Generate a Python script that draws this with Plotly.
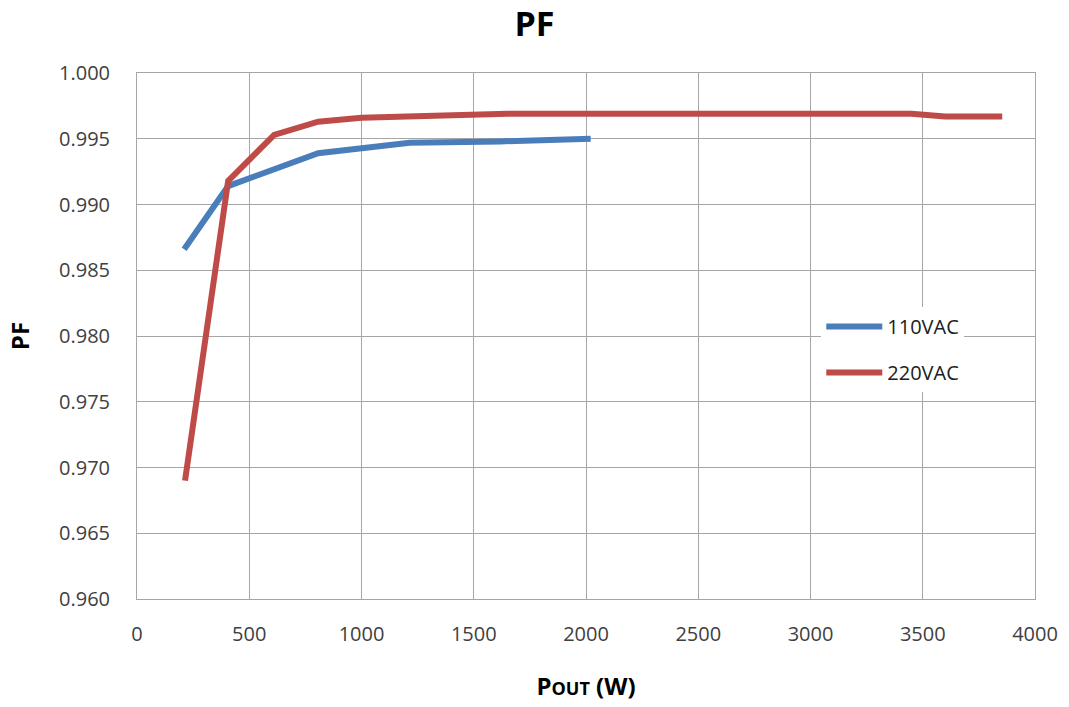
import plotly.graph_objects as go

# Output power (W) and measured power factor
pout_110 = [210, 406, 807, 1215, 1620, 2021]
pf_110 = [0.9866, 0.9914, 0.9939, 0.9947, 0.9948, 0.9950]

pout_220 = [214, 406, 611, 807, 1000, 1220, 1650, 3450, 3600, 3854]
pf_220 = [0.9690, 0.9918, 0.9953, 0.9963, 0.9966, 0.9967, 0.9969, 0.9969, 0.9967, 0.9967]

x_ticks = [0, 500, 1000, 1500, 2000, 2500, 3000, 3500, 4000]
y_ticks = [0.960, 0.965, 0.970, 0.975, 0.980, 0.985, 0.990, 0.995, 1.000]

FONT = "Open Sans, Lato, sans-serif"
GRID = "#a6a6a6"
TICK_FONT = dict(family=FONT, size=20, color="#404040")

fig = go.Figure()
fig.add_trace(go.Scatter(
    x=pout_110, y=pf_110, mode="lines", name="110VAC",
    line=dict(color="#4a7ebb", width=6), legendgroup="a",
))
fig.add_trace(go.Scatter(
    x=pout_220, y=pf_220, mode="lines", name="220VAC",
    line=dict(color="#be4b48", width=6), legendgroup="b",
))

fig.update_layout(
    width=1069, height=707,
    paper_bgcolor="white", plot_bgcolor="white",
    margin=dict(l=137, r=34, t=73, b=108),
    title=dict(text="<b>PF</b>", x=0.5, xanchor="center", y=0.966, yanchor="middle",
               font=dict(family=FONT, size=34, color="black")),
    legend=dict(
        x=0.762, y=0.555, xanchor="left", yanchor="top",
        bgcolor="white", font=dict(family=FONT, size=20, color="#202020"),
        traceorder="grouped", tracegroupgap=17, itemwidth=56,
    ),
    xaxis=dict(
        range=[0, 4000], tickvals=x_ticks, showgrid=True, gridcolor=GRID, gridwidth=1,
        showline=True, linecolor=GRID, linewidth=1, mirror=True, zeroline=False,
        tickfont=TICK_FONT, ticks="", ticklabelstandoff=17, automargin=False,
        title=dict(text="<b>P<span style='font-size:18px'>OUT</span> (W)</b>",
                   font=dict(family=FONT, size=24, color="black"), standoff=32),
    ),
    yaxis=dict(
        range=[0.960, 1.000], tickvals=y_ticks, tickformat=".3f",
        showgrid=True, gridcolor=GRID, gridwidth=1,
        showline=True, linecolor=GRID, linewidth=1, mirror=True, zeroline=False,
        tickfont=TICK_FONT, ticks="", ticklabelstandoff=22, automargin=False,
        title=dict(text="<b>PF</b>", font=dict(family=FONT, size=24, color="black"), standoff=22),
    ),
)

fig.write_html("out.html")
